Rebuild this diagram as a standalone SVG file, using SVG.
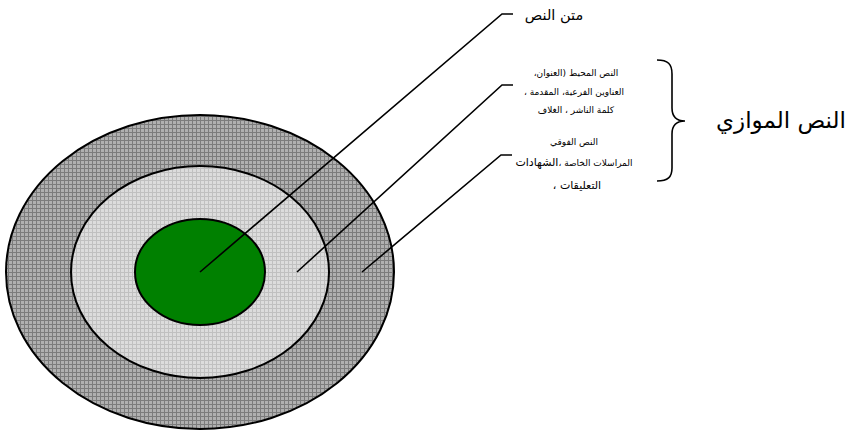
<svg xmlns="http://www.w3.org/2000/svg" width="860" height="431" viewBox="0 0 860 431">
<style>
.ring{stroke:#000;stroke-width:2}
.conn{fill:none;stroke:#000;stroke-width:1.6}
.t{font-family:"DejaVu Sans",sans-serif;fill:#000;direction:rtl}
.s{font-size:9px}
</style>
<defs>
<pattern id="pDark" width="4" height="4" patternUnits="userSpaceOnUse">
<rect width="4" height="4" fill="#b0b0b0"/>
<path d="M0 0.5H4M0.5 0V4" stroke="#7c7c7c" stroke-width="1"/>
</pattern>
<pattern id="pLight" width="4" height="4" patternUnits="userSpaceOnUse">
<rect width="4" height="4" fill="#dcdcdc"/>
<path d="M0 0.5H4M0.5 0V4" stroke="#c0c0c0" stroke-width="1"/>
</pattern>
</defs>
<g id="outer"><ellipse class="ring" cx="200" cy="272" rx="194" ry="157" fill="url(#pDark)"/></g>
<g id="middle"><ellipse class="ring" cx="200" cy="272" rx="129" ry="106" fill="url(#pLight)"/></g>
<g id="core"><ellipse class="ring" cx="200" cy="272" rx="65" ry="53" fill="#008000"/></g>
<g id="connectors">
<path class="conn" d="M200 272L502 14H513"/>
<path class="conn" d="M297 272L502 85H513"/>
<path class="conn" d="M362 272L501 155H512"/>
</g>
<g id="label-core"><text class="t" x="554" y="20" font-size="14.5" text-anchor="middle">متن النص</text></g>
<g id="label-peritext">
<text class="t s" x="576" y="76" text-anchor="middle">النص المحيط (العنوان،</text>
<text class="t s" x="574" y="95" text-anchor="middle">العناوين الفرعية، المقدمة ،</text>
<text class="t s" x="576" y="113" text-anchor="middle">كلمة الناشر ، الغلاف</text>
</g>
<g id="label-epitext">
<text class="t s" x="574" y="145" text-anchor="middle">النص الفوقي</text>
<text class="t s" x="574" y="166" text-anchor="middle">المراسلات الخاصة ،<tspan font-size="11">الشهادات</tspan></text>
<text class="t" x="577" y="189" font-size="11" text-anchor="middle">التعليقات ،</text>
</g>
<g id="paratext">
<path class="conn" d="M657 60C668 60 672 64 672 74V108C672 116 676 121 685 121C676 121 672 126 672 134V168C672 177 668 181 657 181"/>
<text class="t" x="781" y="128" font-size="23" text-anchor="middle">النص الموازي</text>
</g>
</svg>
